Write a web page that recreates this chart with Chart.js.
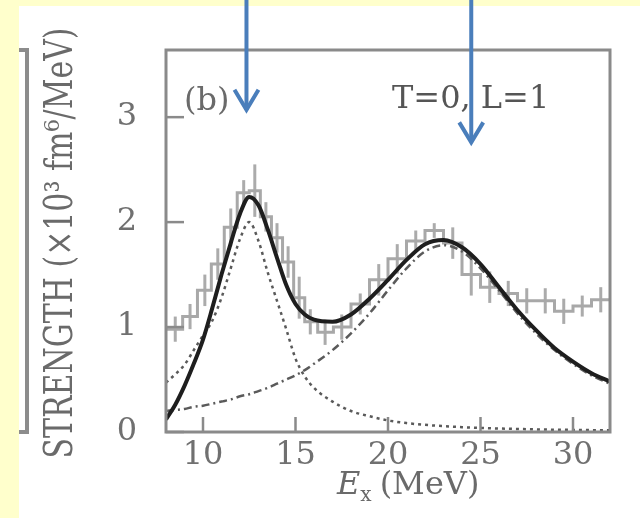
<!DOCTYPE html>
<html>
<head>
<meta charset="utf-8">
<script src="https://cdn.jsdelivr.net/npm/chart.js@4.4.1/dist/chart.umd.min.js"></script>
<style>
  html,body{margin:0;padding:0;background:#ffffcc;}
  canvas{display:block;}
</style>
</head>
<body>
<canvas id="c" width="640" height="518"></canvas>
<script>
/* ---------- Data ---------- */
// excitation energy grid for the fitted curves, MeV
const energies = [8,8.5,9,9.5,10,10.5,11,11.5,12,12.5,13,13.5,14,14.5,15,15.5,16,17,18,19,20,21,22,23,24,25,26,27,28,29,30,31,32];
// total calculation (thick solid)
const totalStrength = [0.12,0.26,0.44,0.65,0.88,1.18,1.50,1.80,2.08,2.24,2.16,1.93,1.66,1.40,1.22,1.12,1.07,1.05,1.12,1.27,1.45,1.64,1.79,1.83,1.76,1.60,1.38,1.16,0.97,0.80,0.67,0.56,0.48];
// low-energy component (dashed)
const lowPeak = [0.47,0.55,0.64,0.78,0.92,1.06,1.28,1.56,1.84,2.00,1.82,1.52,1.25,0.98,0.70,0.53,0.42,0.29,0.20,0.15,0.11,0.085,0.068,0.056,0.046,0.039,0.033,0.029,0.025,0.022,0.020,0.018,0.016];
// high-energy component (dash-dot)
const highPeak = [0.20,0.21,0.22,0.24,0.25,0.27,0.29,0.31,0.34,0.36,0.39,0.42,0.46,0.50,0.54,0.59,0.65,0.78,0.94,1.13,1.35,1.56,1.72,1.78,1.72,1.56,1.35,1.13,0.94,0.78,0.65,0.54,0.46];

// measured histogram: bin centres, strength, error
const binCentres = [8.5,9.3,10.1,10.8,11.5,12.2,12.8,13.4,14.0,14.6,15.2,15.8,16.6,17.5,18.5,19.5,20.5,21.5,22.5,23.5,24.5,25.5,26.5,27.5,28.5,29.5,30.5,31.5];
const measured = [0.98,1.10,1.35,1.60,1.95,2.28,2.30,2.05,1.85,1.62,1.28,1.05,0.95,1.00,1.22,1.45,1.65,1.82,1.92,1.80,1.50,1.38,1.32,1.25,1.25,1.15,1.20,1.26];
const measuredErr = [0.12,0.12,0.15,0.15,0.18,0.12,0.25,0.14,0.14,0.15,0.20,0.12,0.12,0.12,0.10,0.15,0.14,0.10,0.07,0.15,0.20,0.15,0.12,0.12,0.12,0.12,0.10,0.12];

const xTicks = [10,15,20,25,30];
const yTicks = [0,1,2,3];
// blue arrows marking the two peaks
const arrowAt = [12.35,24.5];
const arrowTip = [3.07,2.76];

/* ---------- Helpers ---------- */
function pts(xs, ys){ return xs.map((e,i)=>({x:e, y:ys[i]})); }
const SERIF = '"DejaVu Serif", "Liberation Serif", serif';

/* ---------- Plugins ---------- */
const bg = {
  id:'bg',
  beforeDraw(chart){
    const {ctx, chartArea:a} = chart;
    ctx.save();
    ctx.fillStyle = '#ffffcc';
    ctx.fillRect(0,0,chart.width,chart.height);
    ctx.fillStyle = '#ffffff';
    ctx.fillRect(19,6,chart.width-19,chart.height-6);
    // bracket on the far left
    ctx.strokeStyle = '#8c8c8c'; ctx.lineWidth = 4;
    ctx.beginPath();
    ctx.moveTo(19,a.top); ctx.lineTo(27,a.top); ctx.lineTo(27,a.bottom); ctx.lineTo(19,a.bottom);
    ctx.stroke();
    ctx.restore();
  }
};

const errBars = {
  id:'errBars',
  beforeDatasetsDraw(chart){
    const {ctx, chartArea:a, scales:{x,y}} = chart;
    ctx.save();
    ctx.beginPath(); ctx.rect(a.left,a.top,a.right-a.left,a.bottom-a.top); ctx.clip();
    ctx.strokeStyle = '#ababab'; ctx.lineWidth = 3;
    binCentres.forEach((e,i)=>{
      const px = x.getPixelForValue(e);
      ctx.beginPath();
      ctx.moveTo(px, y.getPixelForValue(measured[i]-measuredErr[i]));
      ctx.lineTo(px, y.getPixelForValue(measured[i]+measuredErr[i]));
      ctx.stroke();
    });
    ctx.restore();
  }
};

const frame = {
  id:'frame',
  afterDatasetsDraw(chart){
    const {ctx, chartArea:a, scales:{x,y}} = chart;
    ctx.save();
    ctx.strokeStyle = '#8a8a8a'; ctx.lineWidth = 3;
    ctx.strokeRect(a.left,a.top,a.right-a.left,a.bottom-a.top);
    ctx.lineWidth = 2.5;
    yTicks.forEach(v=>{
      const py = y.getPixelForValue(v);
      ctx.beginPath(); ctx.moveTo(a.left,py); ctx.lineTo(a.left+18,py); ctx.stroke();
    });
    xTicks.forEach(v=>{
      const px = x.getPixelForValue(v);
      ctx.beginPath(); ctx.moveTo(px,a.bottom); ctx.lineTo(px,a.bottom-15); ctx.stroke();
    });
    ctx.restore();
  }
};

const notes = {
  id:'notes',
  afterDraw(chart){
    const {ctx, scales:{x,y}} = chart;
    ctx.save();
    ctx.fillStyle = '#6a6a6a';
    ctx.textBaseline = 'middle';
    ctx.font = '32px ' + SERIF;
    ctx.fillText('(b)', 184, 102);
    ctx.fillStyle = '#555';
    ctx.fillText('T=0, L=1', 392, 100);

    // y title, rotated
    ctx.save();
    ctx.fillStyle = '#6a6a6a';
    ctx.translate(62,243);
    ctx.rotate(-Math.PI/2);
    ctx.scale(1,1.3);
    ctx.textAlign = 'center';
    ctx.font = '30px ' + SERIF;
    ctx.fillText('STRENGTH (×10³ fm⁶/MeV)', 0, 0);
    ctx.restore();

    // x title with subscript
    ctx.fillStyle = '#6a6a6a';
    ctx.textBaseline = 'alphabetic';
    let tx = 337;
    ctx.font = 'italic 32px ' + SERIF;
    ctx.fillText('E', tx, 494); tx += ctx.measureText('E').width;
    ctx.font = '20px ' + SERIF;
    ctx.fillText('x', tx, 501); tx += ctx.measureText('x').width + 8;
    ctx.font = '32px ' + SERIF;
    ctx.fillText('(MeV)', tx, 494);

    // arrows
    ctx.strokeStyle = '#4a7ebb'; ctx.lineWidth = 4;
    arrowAt.forEach((e,i)=>{
      const px = x.getPixelForValue(e), tip = y.getPixelForValue(arrowTip[i]);
      ctx.beginPath(); ctx.moveTo(px,0); ctx.lineTo(px,tip); ctx.stroke();
      ctx.beginPath(); ctx.moveTo(px-12,tip-20); ctx.lineTo(px,tip); ctx.lineTo(px+12,tip-20); ctx.stroke();
    });
    ctx.restore();
  }
};

/* ---------- Chart ---------- */
const histo = [{x:8, y:measured[0]}].concat(pts(binCentres, measured), [{x:32, y:measured[measured.length-1]}]);

new Chart(document.getElementById('c'), {
  type:'line',
  data:{ datasets:[
    {data:pts(energies,totalStrength), borderColor:'#1e1e1e', borderWidth:4, pointRadius:0, cubicInterpolationMode:'monotone'},
    {data:pts(energies,lowPeak), borderColor:'#5a5a5a', borderWidth:2.5, borderDash:[3,4], pointRadius:0, cubicInterpolationMode:'monotone'},
    {data:pts(energies,highPeak), borderColor:'#5a5a5a', borderWidth:2.5, borderDash:[8,4,2,4], pointRadius:0, cubicInterpolationMode:'monotone'},
    {data:histo, borderColor:'#a8a8a8', borderWidth:3, pointRadius:0, stepped:'middle'}
  ]},
  options:{
    responsive:false, animation:false, devicePixelRatio:1,
    layout:{padding:{left:19, top:50, right:30, bottom:0}},
    plugins:{legend:{display:false}, tooltip:{enabled:false}},
    scales:{
      x:{type:'linear', min:8, max:32,
         grid:{display:false, drawTicks:false}, border:{display:false},
         afterBuildTicks: s => { s.ticks = xTicks.map(v=>({value:v})); },
         afterFit: s => { s.height = 86; },
         ticks:{color:'#707070', font:{family:SERIF, size:32}, padding:4, maxRotation:0, autoSkip:false}},
      y:{type:'linear', min:0, max:3.64,
         grid:{display:false, drawTicks:false}, border:{display:false},
         afterBuildTicks: s => { s.ticks = yTicks.map(v=>({value:v})); },
         afterFit: s => { s.width = 147; },
         ticks:{color:'#707070', font:{family:SERIF, size:32}, padding:29}}
    }
  },
  plugins:[bg, errBars, frame, notes]
});
</script>
</body>
</html>
